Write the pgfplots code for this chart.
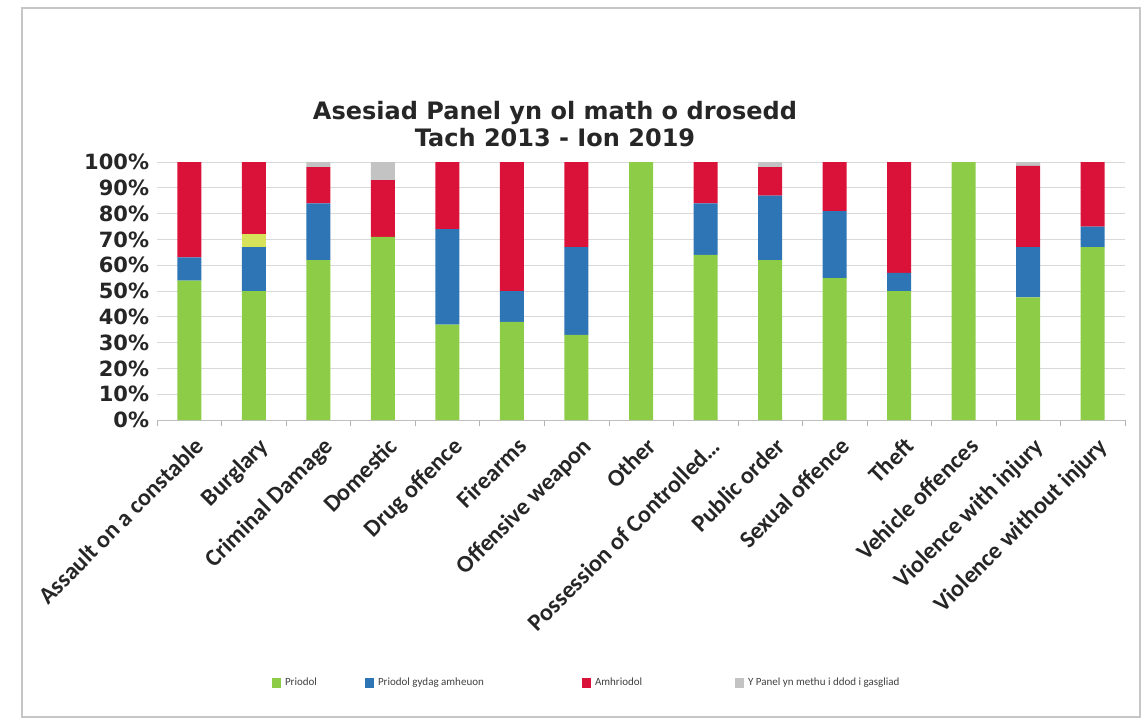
\documentclass[border=0pt]{standalone}
\usepackage{pgfplots}
\pgfplotsset{compat=1.18}
\usepackage{pgfplotstable}
\usepackage{fontspec}
\setmainfont{Carlito}
\newfontfamily\dejavu{DejaVu Sans}

\definecolor{cgreen}{RGB}{140,204,70}
\definecolor{cblue}{RGB}{46,117,182}
\definecolor{cred}{RGB}{218,18,58}
\definecolor{cgrey}{RGB}{195,195,195}
\definecolor{cyell}{RGB}{214,226,90}

% idx green blue yell red grey (percent)
\pgfplotstableread{
idx g b y r n
0 54 9 0 37 0
1 50 17 5 28 0
2 62 22 0 14 2
3 71 0 0 22 7
4 37 37 0 26 0
5 38 12 0 50 0
6 33 34 0 33 0
7 100 0 0 0 0
8 64 20 0 16 0
9 62 25 0 11 2
10 55 26 0 19 0
11 50 7 0 43 0
12 100 0 0 0 0
13 47.5 19.5 0 31.5 1.5
14 67 8 0 25 0
}\crimes

\begin{document}
\begin{tikzpicture}
\useasboundingbox (0,0) rectangle (571pt,362.5pt);
\draw[gray!45, line width=0.8pt] (11pt,4pt) rectangle (570pt,358.5pt);
\node[font=\dejavu\bfseries\fontsize{12}{13.5}\selectfont, align=center, text=black!85]
  at (277.5pt,300.5pt) {Asesiad Panel yn ol math o drosedd\\Tach 2013 - Ion 2019};
\begin{axis}[
  at={(78.5pt,152.5pt)}, anchor=south west,
  scale only axis, width=484pt, height=129pt,
  ybar stacked, bar width=12pt,
  xmin=-0.5, xmax=14.5, ymin=0, ymax=100,
  xtick={0,...,14},
  xticklabels={Assault on a constable, Burglary, Criminal Damage, Domestic,
    Drug offence, Firearms, Offensive weapon, Other, Possession of Controlled\ldots,
    Public order, Sexual offence, Theft, Vehicle offences, Violence with injury,
    Violence without injury},
  x tick label style={font=\bfseries\fontsize{12}{13}\selectfont, rotate=45, anchor=north east, text=black!85, inner sep=1pt, xshift=0pt, yshift=-3pt},
  major x tick style={draw=none},
  minor xtick={-0.5,0.5,...,14.5},
  minor x tick style={gray!60}, minor tick length=3pt,
  tick align=outside,
  xtick pos=bottom, ytick pos=left,
  ytick={0,10,...,100},
  yticklabels={0\%,10\%,20\%,30\%,40\%,50\%,60\%,70\%,80\%,90\%,100\%},
  y tick label style={font=\dejavu\bfseries\fontsize{10.5}{11}\selectfont, text=black!85, inner sep=0.5pt, xshift=1pt},
  major y tick style={draw=none},
  ymajorgrids, grid style={gray!30},
  axis x line*=bottom, axis y line*=left,
  x axis line style={gray!50, -}, y axis line style={draw=none},
  legend columns=4,
  legend style={draw=none, at={(0.445,-1.02)}, anchor=center,
    font=\fontsize{5.5}{6.5}\selectfont, text=black!75,
    /tikz/every even column/.append style={column sep=0pt}},
  legend image code/.code={\fill[#1] (0pt,-2.5pt) rectangle (4.5pt,2.5pt);},
]
\addplot[draw=none, fill=cgreen] table[x=idx,y=g]{\crimes};
\addlegendentry{\makebox[38pt][l]{Priodol}}
\addplot[draw=none, fill=cblue] table[x=idx,y=b]{\crimes};
\addlegendentry{\makebox[100pt][l]{Priodol gydag amheuon}}
\addplot[draw=none, fill=cyell, forget plot] table[x=idx,y=y]{\crimes};
\addplot[draw=none, fill=cred] table[x=idx,y=r]{\crimes};
\addlegendentry{\makebox[68pt][l]{Amhriodol}}
\addplot[draw=none, fill=cgrey] table[x=idx,y=n]{\crimes};
\addlegendentry{Y Panel yn methu i ddod i gasgliad}
\end{axis}
\end{tikzpicture}
\end{document}
